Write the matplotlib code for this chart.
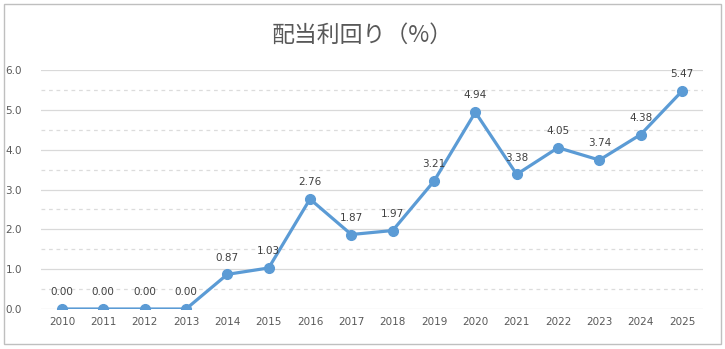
import matplotlib
matplotlib.use("Agg")
import matplotlib.pyplot as plt
from matplotlib.patches import Rectangle
from matplotlib.ticker import MultipleLocator

plt.rcParams['font.family'] = ['Noto Sans CJK JP', 'DejaVu Sans']

years = ["2010", "2011", "2012", "2013", "2014", "2015", "2016", "2017",
         "2018", "2019", "2020", "2021", "2022", "2023", "2024", "2025"]
yields = [0.00, 0.00, 0.00, 0.00, 0.87, 1.03, 2.76, 1.87,
          1.97, 3.21, 4.94, 3.38, 4.05, 3.74, 4.38, 5.47]
title = "配当利回り（%）"

fig = plt.figure(figsize=(7.25, 3.49), dpi=100)
fig.patch.set_facecolor("white")
fig.patches.append(Rectangle((3.5/725, 5/349), 717/725, 340/349, transform=fig.transFigure,
                             fill=False, edgecolor="#bfbfbf", linewidth=1.0))

ax = fig.add_axes([41.3/725, 40/349, 661.4/725, 239/349])
x = list(range(len(years)))
ax.plot(x, yields, color="#5B9BD5", linewidth=2.3, marker="o", markersize=7,
        markeredgecolor="#5B9BD5", markerfacecolor="#5B9BD5", zorder=3)
for xi, v in zip(x, yields):
    ax.annotate(f"{v:.2f}", (xi, v), xytext=(0, 8.5), textcoords="offset points",
                ha="center", va="bottom", fontsize=7.5, color="#404040",
                family=['DejaVu Sans'])

ax.set_xlim(-0.5, len(years) - 0.5)
ax.set_ylim(0, 6)
ax.set_xticks(x)
ax.set_xticklabels(years)
ax.yaxis.set_major_locator(MultipleLocator(1.0))
ax.yaxis.set_minor_locator(MultipleLocator(0.5))
ax.set_yticklabels([f"{v:.1f}" for v in ax.get_yticks()])
ax.grid(axis="y", which="major", color="#d9d9d9", linewidth=0.9)
ax.grid(axis="y", which="minor", color="#dcdcdc", linewidth=0.9, linestyle=(0, (3, 3)))
ax.tick_params(axis="both", which="both", length=0, labelsize=7.5, colors="#595959")
ax.tick_params(axis="x", pad=6)
ax.tick_params(axis="y", pad=14)
for lab in ax.get_xticklabels() + ax.get_yticklabels():
    lab.set_family(['DejaVu Sans'])
for s in ax.spines.values():
    s.set_visible(False)
ax.set_axisbelow(True)

fig.text(0.5, 1 - 35/349, title, ha="center", va="center", fontsize=16.5, color="#595959")

fig.savefig("out.png", dpi=100)
